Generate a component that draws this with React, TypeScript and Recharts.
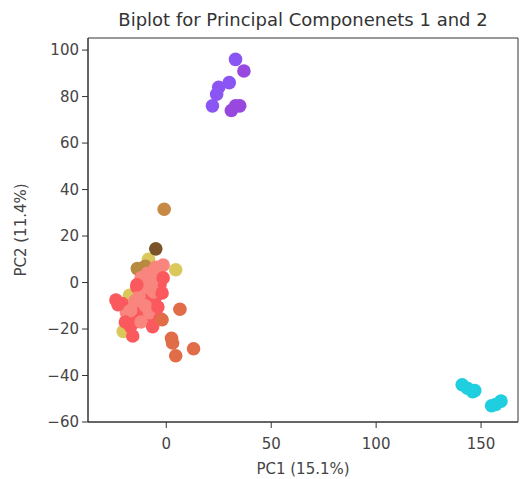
import { ScatterChart, Scatter, XAxis, YAxis, ReferenceArea } from "recharts"

// PC1 / PC2 scores, grouped by colour
const purpleA = [[33, 96], [30, 86], [25, 84], [24, 81], [22, 76]]
const purpleB = [[37, 91], [31, 74], [33, 76], [35, 76]]
const cyan = [[141, -44], [143.5, -45.5], [147, -46.5], [146, -47], [155, -53], [157, -52.5], [159.5, -51]]
const tan = [[-1, 31.5]]
const darkBrown = [[-5, 14.5]]
const khaki = [[4.5, 5.5], [-8.5, 10], [-17.5, -5.5], [-20.5, -21], [-7.5, -13], [-6, 1]]
const olive = [[-13.8, 6], [-10, 7], [-12, 5], [-7, 4]]
const orange = [[6.5, -11.5], [2.5, -24], [3, -26], [4.5, -31.5], [13, -28.5], [-2, -16]]
// red points hidden behind the salmon ones, and those on the edge of the cluster
const redBack = [
  [-21, -9], [-17, -19], [-14, -2], [-12, -4], [-13, -13], [-9, -8], [-11, -15], [-15, -17],
  [-3, -1], [-5, -6], [-6.5, -16],
]
const salmon = [
  [-1.5, 7.5], [-5, 6.5], [-9, 4], [-12, 2], [-10, -2], [-7, 0], [-15, -8], [-13, -6], [-10, -10],
  [-8, -13], [-17, -12], [-12, -17], [-6, -4], [-8, 3], [-4, 4], [-19, -13],
]
const redFront = [
  [-24, -7.5], [-23, -9.5], [-1.5, 2], [-2, -4.5], [-4, -10.5], [-3, -15.5], [-16, -23],
  [-19.5, -17], [-6.5, -19], [-14, -1],
]

const xTicks = [0, 50, 100, 150]
const yTicks = [-60, -40, -20, 0, 20, 40, 60, 80, 100]

const groups = [
  { name: "khaki", pts: khaki, color: "#dac85c" },
  { name: "olive", pts: olive, color: "#b88a40" },
  { name: "redBack", pts: redBack, color: "#fa5a5e" },
  { name: "salmon", pts: salmon, color: "#f9857f" },
  { name: "redFront", pts: redFront, color: "#fa5a5e" },
  { name: "orange", pts: orange, color: "#e06c48" },
  { name: "darkBrown", pts: darkBrown, color: "#7a5428" },
  { name: "tan", pts: tan, color: "#c68a46" },
  { name: "purpleA", pts: purpleA, color: "#8a55f2" },
  { name: "purpleB", pts: purpleB, color: "#9848de" },
  { name: "cyan", pts: cyan, color: "#1fcfe0" },
]

const font = "DejaVu Sans, sans-serif"
const fmt = (v) => String(v).replace("-", "\u2212")

const dot = (color) => (props) => <circle cx={props.cx} cy={props.cy} r={6.8} fill={color} />

export default function App() {
  return (
    <div style={{ position: "absolute", left: 0, top: 0, background: "#fff" }}>
      <ScatterChart width={528} height={479} margin={{ top: 38, right: 10, bottom: 0, left: 0 }}>
        <text x={303} y={26} textAnchor="middle" fontSize={18} fontFamily={font} fill="#333">
          Biplot for Principal Componenets 1 and 2
        </text>
        <XAxis
          type="number"
          dataKey="x"
          domain={[-37.3, 167.6]}
          ticks={xTicks}
          tickFormatter={fmt}
          height={57}
          stroke="#333"
          tickSize={6}
          tickMargin={10}
          tick={{ fontSize: 15, fontFamily: font, fill: "#444" }}
          label={{ value: "PC1 (15.1%)", position: "insideBottom", offset: 5, fontSize: 15, fontFamily: font, fill: "#444" }}
        />
        <YAxis
          type="number"
          dataKey="y"
          domain={[-60, 105.2]}
          ticks={yTicks}
          tickFormatter={fmt}
          width={88}
          stroke="#333"
          tickSize={6}
          tickMargin={3}
          tick={{ fontSize: 15, fontFamily: font, fill: "#444" }}
          label={{ value: "PC2 (11.4%)", angle: -90, position: "insideLeft", offset: 21, fontSize: 15, fontFamily: font, fill: "#444", style: { textAnchor: "middle" } }}
        />
        <ReferenceArea x1={-37.3} x2={167.6} y1={-60} y2={105.2} stroke="#333" fill="none" strokeOpacity={1} />
        {groups.map((g) => (
          <Scatter
            key={g.name}
            name={g.name}
            data={g.pts.map(([x, y]) => ({ x, y }))}
            fill={g.color}
            shape={dot(g.color)}
            isAnimationActive={false}
          />
        ))}
      </ScatterChart>
    </div>
  )
}
